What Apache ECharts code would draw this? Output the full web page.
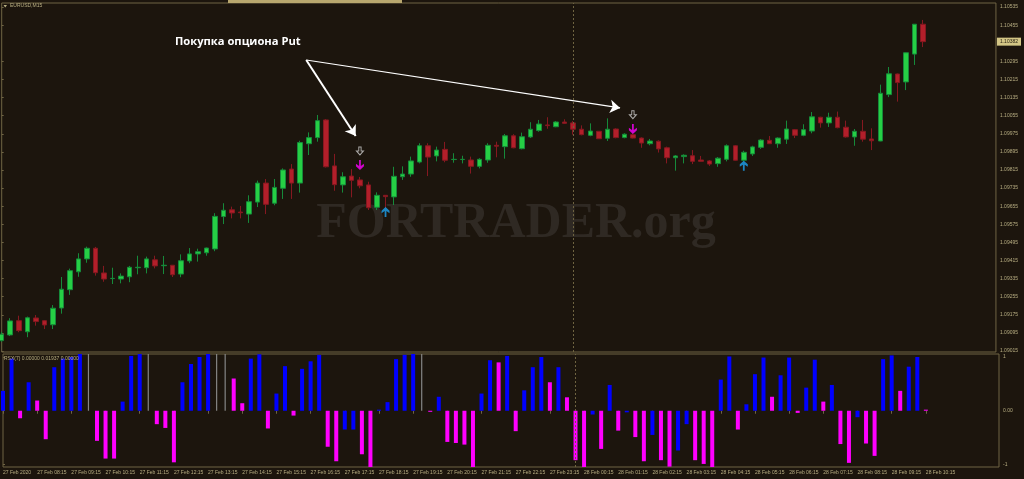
<!DOCTYPE html>
<html><head><meta charset="utf-8">
<style>html,body{margin:0;padding:0;background:#1c150d;}#c{width:1024px;height:479px;}</style>
<script src="https://cdn.jsdelivr.net/npm/echarts@6/dist/echarts.min.js"></script>
</head><body><div id="c"></div>
<script>
// ---- data (EURUSD M15, 27 Feb 07:15 .. 28 Feb 10:15) ----
const opens = [1.09061,1.09086,1.09149,1.09100,1.09161,1.09149,1.09131,1.09205,1.09286,1.09365,
1.09422,1.09469,1.09360,1.09335,1.09333,1.09343,1.09383,1.09383,1.09418,1.09392,
1.09394,1.09355,1.09413,1.09444,1.09449,1.09466,1.09609,1.09639,1.09629,1.09620,
1.09673,1.09757,1.09668,1.09734,1.09819,1.09757,1.09931,1.09958,1.10036,1.09833,
1.09749,1.09788,1.09771,1.09749,1.09650,1.09703,1.09696,1.09785,1.09797,1.09850,
1.09922,1.09877,1.09906,1.09861,1.09861,1.09859,1.09831,1.09859,1.09924,1.09918,
1.09966,1.09909,1.09961,1.09989,1.10014,1.10006,1.10027,1.10023,1.09995,1.09968,
1.09986,1.09955,1.09996,1.09958,1.09971,1.09956,1.09931,1.09942,1.09913,1.09869,
1.09874,1.09878,1.09859,1.09855,1.09843,1.09862,1.09922,1.09858,1.09886,1.09915,
1.09946,1.09931,1.09951,1.09993,1.09968,1.09987,1.10048,1.10023,1.10048,1.10004,
1.09961,1.09986,1.09952,1.09943,1.10148,1.10239,1.10204,1.10327,1.10459];
const closes = [1.09089,1.09148,1.09105,1.09162,1.09145,1.09130,1.09204,1.09288,1.09370,1.09422,
1.09469,1.09361,1.09333,1.09336,1.09346,1.09385,1.09385,1.09422,1.09391,1.09394,
1.09352,1.09414,1.09444,1.09454,1.09470,1.09610,1.09637,1.09625,1.09626,1.09675,
1.09757,1.09663,1.09738,1.09815,1.09757,1.09936,1.09958,1.10033,1.09829,1.09750,
1.09785,1.09769,1.09745,1.09648,1.09703,1.09697,1.09787,1.09797,1.09855,1.09922,
1.09872,1.09903,1.09858,1.09862,1.09862,1.09831,1.09862,1.09924,1.09920,1.09966,
1.09913,1.09962,1.09995,1.10018,1.10011,1.10027,1.10021,1.09995,1.09971,1.09987,
1.09953,1.09995,1.09958,1.09973,1.09956,1.09934,1.09943,1.09908,1.09869,1.09877,
1.09880,1.09853,1.09853,1.09841,1.09867,1.09922,1.09858,1.09893,1.09917,1.09947,
1.09931,1.09956,1.09996,1.09968,1.09993,1.10050,1.10023,1.10048,1.10002,1.09961,
1.09986,1.09951,1.09944,1.10154,1.10240,1.10201,1.10333,1.10459,1.10382];
const lows = [1.09055,1.09081,1.09098,1.09076,1.09127,1.09112,1.09112,1.09180,1.09263,1.09343,
1.09405,1.09348,1.09321,1.09311,1.09314,1.09319,1.09354,1.09358,1.09380,1.09355,
1.09342,1.09341,1.09403,1.09410,1.09436,1.09456,1.09576,1.09601,1.09601,1.09581,
1.09651,1.09620,1.09659,1.09687,1.09687,1.09715,1.09881,1.09940,1.09826,1.09723,
1.09715,1.09694,1.09734,1.09638,1.09638,1.09647,1.09660,1.09771,1.09785,1.09844,
1.09788,1.09853,1.09849,1.09847,1.09844,1.09799,1.09822,1.09847,1.09871,1.09865,
1.09911,1.09906,1.09956,1.09984,1.09997,1.10004,1.10018,1.09971,1.09968,1.09964,
1.09952,1.09943,1.09955,1.09955,1.09954,1.09913,1.09924,1.09892,1.09844,1.09812,
1.09844,1.09841,1.09852,1.09833,1.09829,1.09853,1.09856,1.09852,1.09877,1.09908,
1.09930,1.09913,1.09930,1.09956,1.09964,1.09977,1.10002,1.10005,1.09999,1.09958,
1.09922,1.09940,1.09903,1.09942,1.10137,1.10117,1.10168,1.10279,1.10358];
const highs = [1.09099,1.09160,1.09171,1.09167,1.09174,1.09152,1.09218,1.09342,1.09379,1.09447,
1.09476,1.09475,1.09391,1.09383,1.09358,1.09391,1.09436,1.09432,1.09436,1.09435,
1.09395,1.09442,1.09470,1.09467,1.09472,1.09624,1.09668,1.09653,1.09656,1.09703,
1.09768,1.09775,1.09775,1.09822,1.09841,1.09944,1.09981,1.10058,1.10040,1.09886,
1.09805,1.09819,1.09784,1.09763,1.09716,1.09704,1.09829,1.09831,1.09874,1.09933,
1.09933,1.09918,1.09939,1.09889,1.09878,1.09874,1.09867,1.09933,1.09940,1.09974,
1.09973,1.09980,1.10026,1.10036,1.10048,1.10031,1.10039,1.10031,1.10012,1.10021,
1.09987,1.10043,1.09999,1.09977,1.09977,1.09959,1.09952,1.09946,1.09918,1.09881,
1.09884,1.09903,1.09877,1.09859,1.09872,1.09928,1.09925,1.09900,1.09922,1.09951,
1.09965,1.09959,1.10033,1.09996,1.10017,1.10071,1.10050,1.10068,1.10073,1.10033,
1.09996,1.10036,1.09999,1.10192,1.10270,1.10241,1.10334,1.10460,1.10478];

const timeLabels = ['27 Feb 2020','27 Feb 08:15','27 Feb 09:15','27 Feb 10:15','27 Feb 11:15','27 Feb 12:15','27 Feb 13:15',
'27 Feb 14:15','27 Feb 15:15','27 Feb 16:15','27 Feb 17:15','27 Feb 18:15','27 Feb 19:15','27 Feb 20:15','27 Feb 21:15',
'27 Feb 22:15','27 Feb 23:15','28 Feb 00:15','28 Feb 01:15','28 Feb 02:15','28 Feb 03:15','28 Feb 04:15','28 Feb 05:15',
'28 Feb 06:15','28 Feb 07:15','28 Feb 08:15','28 Feb 09:15','28 Feb 10:15'];
const barsPerLabel = 4;
const priceTicks = [1.09015,1.09095,1.09175,1.09255,1.09335,1.09415,1.09495,1.09575,1.09655,1.09735,
1.09815,1.09895,1.09975,1.10055,1.10135,1.10215,1.10295,1.10455,1.10535];
const lastPrice = 1.10382;
const daySeparatorIdx = 67;

// RSX histogram
const rsxBlue = [0.37,0.97,null,0.53,null,null,0.81,0.97,1.00,1.07,
null,null,null,null,0.17,1.02,1.07,null,null,null,
null,0.53,0.87,1.00,1.07,null,null,null,null,0.97,
1.05,null,0.32,0.83,null,0.78,0.92,1.04,null,null,
-0.35,-0.35,null,null,0.02,0.16,0.96,1.04,1.07,null,
null,0.26,null,null,null,null,0.32,0.94,null,1.02,
null,0.38,0.81,1.00,null,0.81,null,null,null,-0.07,
null,0.48,null,-0.03,null,null,-0.45,null,null,-0.74,
-0.25,null,null,null,0.58,1.01,null,0.12,0.68,0.99,
null,0.66,0.99,null,0.43,0.95,null,0.48,null,null,
-0.12,null,null,0.96,1.03,null,0.82,1.00,null];
const rsxMagenta = [null,null,-0.14,null,0.19,-0.53,null,null,null,null,
null,-0.56,-0.89,-0.89,null,null,null,null,-0.25,-0.32,
-0.96,null,null,null,null,null,null,0.60,0.14,null,
null,-0.33,null,null,-0.09,null,null,null,-0.67,-0.94,
null,null,-0.81,-1.05,null,null,null,null,null,null,
-0.02,null,-0.58,-0.60,-0.63,-1.05,null,null,0.90,null,
-0.38,null,null,null,0.53,null,0.25,-0.92,-1.05,null,
-0.71,null,-0.37,null,-0.49,-0.94,null,-0.92,-1.04,null,
null,-0.92,-0.99,-1.06,null,null,-0.35,null,null,null,
0.26,null,null,-0.04,null,null,0.17,null,-0.62,-0.97,
null,-0.61,-0.84,null,null,0.37,null,null,0.02];
const rsxGreyIdx = [10,17,25,26,49];
const rsxGreyVal = [1.06,1.06,1.06,1.06,1.06];

// signals
const sellIdx = [42,74], sellPrice = [1.09837,1.09996];
const sellMarkPrice = [1.09899,1.10059];
const buyIdx = [45,87], buyPrice = [1.09629,1.09834];
// annotation arrows
const noteFrom = [35.7, 1.10301];
const noteTo = [[41.5, 1.09965],[72.5, 1.10089]];
const noteText = 'Покупка опциона Put';

// ---- chart ----
const BG = '#1c150d', FRAME = '#6f6444', TXT = '#b8ae82';
const xMax = 116.56;
const labelIdx = timeLabels.map((_, k) => k * barsPerLabel);
const candleData = opens.map((o, i) => [i, o, closes[i], lows[i], highs[i]]);
const histData = [];
rsxBlue.forEach((v, i) => { if (v !== null) histData.push({value: [i, v], itemStyle: {color: '#0000ff'}}); });
rsxMagenta.forEach((v, i) => { if (v !== null) histData.push({value: [i, v], itemStyle: {color: '#ff00ff'}}); });
const greyData = rsxGreyIdx.map((i, k) => [i, rsxGreyVal[k]]);

const smallFont = {fontFamily: 'Liberation Sans', fontSize: 5, color: TXT};
const downPath = 'path://M3.5,0L5.5,0L5.5,6L9,3.8L9,6.3L4.5,10L0,6.3L0,3.8L3.5,6Z';
const upPath = 'path://M3.5,10L5.5,10L5.5,4L9,6.2L9,3.7L4.5,0L0,3.7L0,6.2L3.5,4Z';
const hollowPath = 'path://M3,0L6,0L6,4.5L9,4.5L4.5,9L0,4.5L3,4.5Z';

const chart = echarts.init(document.getElementById('c'), null, {renderer: 'canvas'});
chart.setOption({
  backgroundColor: BG,
  animation: false,
  grid: [
    {left: 1.7, right: 25, top: 3, height: 349, show: true, borderColor: FRAME, borderWidth: 1, backgroundColor: 'transparent'},
    {left: 1.7, right: 25, top: 354, height: 113, show: true, borderColor: FRAME, borderWidth: 1, backgroundColor: 'transparent'}
  ],
  xAxis: [
    {type: 'value', gridIndex: 0, min: 0, max: xMax, show: false, splitLine: {show: false}},
    {type: 'value', gridIndex: 1, min: 0, max: xMax, position: 'bottom',
      axisLine: {show: false}, splitLine: {show: false},
      axisTick: {show: true, customValues: labelIdx, length: 3, lineStyle: {color: FRAME}},
      axisLabel: Object.assign({show: true, customValues: labelIdx, align: 'left', margin: 3,
        formatter: v => timeLabels[Math.round(v / barsPerLabel)] || ''}, smallFont)}
  ],
  yAxis: [
    {type: 'value', gridIndex: 0, position: 'right', min: 1.090106, max: 1.105528, scale: true,
      axisLine: {show: false}, splitLine: {show: false},
      axisTick: {show: true, customValues: priceTicks, length: 2, lineStyle: {color: FRAME}},
      axisLabel: Object.assign({customValues: priceTicks, margin: 4, formatter: v => v.toFixed(5)}, smallFont)},
    {type: 'value', gridIndex: 0, position: 'right', min: 1.090106, max: 1.105528, scale: true,
      axisLine: {show: false}, splitLine: {show: false}, axisTick: {show: false},
      axisLabel: {customValues: [lastPrice], margin: 1, formatter: v => v.toFixed(5),
        fontFamily: 'Liberation Sans', fontSize: 5, color: '#2a2212', backgroundColor: '#d3c685', padding: [2, 3, 1, 3]}},
    {type: 'value', gridIndex: 1, position: 'right', min: -1.047, max: 1.056,
      axisLine: {show: false}, splitLine: {show: false},
      axisTick: {show: true, customValues: [1, 0, -1], length: 2, lineStyle: {color: FRAME}},
      axisLabel: Object.assign({customValues: [1, 0, -1], margin: 4, formatter: v => v === 0 ? '0.00' : String(v)}, smallFont)}
  ],
  series: [
    {type: 'candlestick', xAxisIndex: 0, yAxisIndex: 0, data: candleData,
      dimensions: ['idx', 'open', 'close', 'lowest', 'highest'],
      encode: {x: 'idx', y: ['open', 'close', 'lowest', 'highest']},
      barWidth: 5,
      itemStyle: {color: '#26cf45', borderColor: '#168a3a', color0: '#b21f2a', borderColor0: '#851820', borderWidth: 1},
      markLine: {silent: true, symbol: 'none', label: {show: false},
        lineStyle: {color: '#6e6340', type: [2, 2], width: 1},
        data: [{xAxis: daySeparatorIdx}]}
    },
    {type: 'scatter', xAxisIndex: 0, yAxisIndex: 0, symbol: downPath, symbolSize: [8, 10],
      itemStyle: {color: '#ff00ff'}, data: sellIdx.map((i, k) => [i, sellPrice[k]]), z: 5,
      markLine: {silent: true, symbol: ['none', 'arrow'], symbolSize: 10, label: {show: false},
        lineStyle: {color: '#ffffff', type: 'solid', width: 2},
        data: [
          [{coord: noteFrom}, {coord: noteTo[0]}],
          [{coord: noteFrom, lineStyle: {width: 1.2}}, {coord: noteTo[1]}]
        ]}
    },
    {type: 'scatter', xAxisIndex: 0, yAxisIndex: 0, symbol: hollowPath, symbolSize: [7, 8],
      itemStyle: {color: 'rgba(0,0,0,0)', borderColor: '#cfcfcf', borderWidth: 1}, data: sellIdx.map((i, k) => [i, sellMarkPrice[k]]), z: 5},
    {type: 'scatter', xAxisIndex: 0, yAxisIndex: 0, symbol: upPath, symbolSize: [8, 10],
      itemStyle: {color: '#1ea3f0'}, data: buyIdx.map((i, k) => [i, buyPrice[k]]), z: 5},
    {type: 'bar', xAxisIndex: 1, yAxisIndex: 2, data: histData, barWidth: 4,
      markLine: {silent: true, symbol: 'none', label: {show: false},
        lineStyle: {color: '#6e6340', type: [2, 2], width: 1}, data: [{xAxis: daySeparatorIdx}]}},
    {type: 'custom', xAxisIndex: 1, yAxisIndex: 2, data: greyData, clip: true,
      renderItem: (params, api) => {
        const p0 = api.coord([api.value(0), 0]);
        const p1 = api.coord([api.value(0), api.value(1)]);
        return {type: 'line', shape: {x1: p0[0], y1: p0[1], x2: p1[0], y2: p1[1]},
          style: {stroke: '#858585', lineWidth: 1.2}};
      }}
  ],
  graphic: [
    {type: 'text', z: 0, style: {text: 'FORTRADER.org', x: 516, y: 224,
      font: 'bold 50px "Liberation Serif"', fill: '#2f2923', align: 'center', verticalAlign: 'middle'}},
    {type: 'rect', z: 10, shape: {x: 228, y: 0, width: 174, height: 3}, style: {fill: '#b8a76e'}},
    {type: 'polygon', z: 10, shape: {points: [[3.5, 5], [7, 5], [5.25, 7.5]]}, style: {fill: TXT}},
    {type: 'text', z: 10, style: {text: 'EURUSD,M15', x: 10, y: 6, font: '5px "Liberation Sans"', fill: TXT, verticalAlign: 'middle'}},
    {type: 'text', z: 10, style: {text: 'RSX(7) 0.00000 0.01937 0.00000', x: 4, y: 358.5, font: '5px "Liberation Sans"', fill: TXT, verticalAlign: 'middle'}},
    {type: 'text', z: 10, style: {text: noteText, x: 175, y: 42, font: 'bold 11.2px "Open Sans"', fill: '#ffffff', verticalAlign: 'middle'}}
  ]
});
</script></body></html>
